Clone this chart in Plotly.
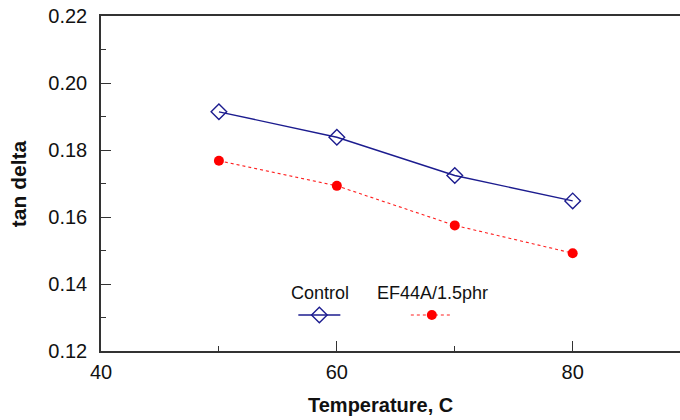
import plotly.graph_objects as go

temps = [50, 60, 70, 80]
control = [0.1914, 0.1838, 0.1724, 0.1648]
ef44a = [0.1768, 0.1693, 0.1575, 0.1492]
names = ["Control", "EF44A/1.5phr"]
x_title = "Temperature, C"
y_title = "tan delta"
x_ticks = [40, 60, 80]
x_minor = [50, 70]
y_ticks = [0.12, 0.14, 0.16, 0.18, 0.20, 0.22]
y_minor = [0.13, 0.15, 0.17, 0.19, 0.21]

FONT = "Liberation Sans, Arial, sans-serif"
AX = "#333333"
TXT = "#111111"

fig = go.Figure()
fig.add_trace(go.Scatter(
    x=temps, y=control, mode="lines+markers", name="",
    line=dict(color="#1c1c8f", width=1.4),
    marker=dict(symbol="diamond-open", size=12, color="#1c1c8f", line=dict(width=1.4)),
    legend="legend",
))
fig.add_trace(go.Scatter(
    x=temps, y=ef44a, mode="lines+markers", name="",
    line=dict(color="#ff2020", width=1.1, dash="dot"),
    marker=dict(symbol="circle", size=10, color="#ff0000"),
    legend="legend2",
))

common = dict(
    showline=True, linecolor=AX, linewidth=1.5,
    ticks="inside", ticklen=10, tickwidth=1.2, tickcolor=AX,
    showgrid=False, zeroline=False,
    tickfont=dict(family=FONT, size=20, color=TXT),
)

fig.update_xaxes(
    range=[40, 89.1], tickvals=x_ticks, ticktext=[str(v) for v in x_ticks],
    mirror=True, ticklabelstandoff=2,
    minor=dict(tickvals=x_minor, ticklen=5, tickwidth=1.2, tickcolor=AX, ticks="inside"),
    **common,
)
fig.update_yaxes(
    range=[0.12, 0.22], tickvals=y_ticks, ticktext=[f"{v:.2f}" for v in y_ticks],
    mirror=False, ticklabelstandoff=8,
    minor=dict(tickvals=y_minor, ticklen=5, tickwidth=1.2, tickcolor=AX, ticks="inside"),
    **common,
)

leg_common = dict(
    orientation="h", xanchor="left", yanchor="middle",
    bgcolor="rgba(0,0,0,0)", itemwidth=42,
    font=dict(family=FONT, size=17, color=TXT),
)
fig.update_layout(
    width=680, height=420,
    margin=dict(l=101, r=0, t=16, b=69),
    plot_bgcolor="white", paper_bgcolor="white",
    showlegend=True,
    legend=dict(x=0.3322, y=0.106, **leg_common),
    legend2=dict(x=0.5265, y=0.106, **leg_common),
)

fig.add_annotation(text=names[0], xref="paper", yref="paper", x=0.378, y=0.173,
                   xanchor="center", yanchor="middle", showarrow=False,
                   font=dict(family=FONT, size=18, color=TXT))
fig.add_annotation(text=names[1], xref="paper", yref="paper", x=0.5734, y=0.173,
                   xanchor="center", yanchor="middle", showarrow=False,
                   font=dict(family=FONT, size=18, color=TXT))
fig.add_annotation(text=x_title, xref="paper", yref="paper", x=0.482, y=-0.161,
                   xanchor="center", yanchor="middle", showarrow=False,
                   font=dict(family=FONT, size=20, color=TXT, weight="bold"))
fig.add_annotation(text=y_title, xref="paper", yref="paper", x=-0.143, y=0.4985,
                   xanchor="center", yanchor="middle", showarrow=False, textangle=-90,
                   font=dict(family=FONT, size=21, color=TXT, weight="bold"))

fig.write_html("out.html")
